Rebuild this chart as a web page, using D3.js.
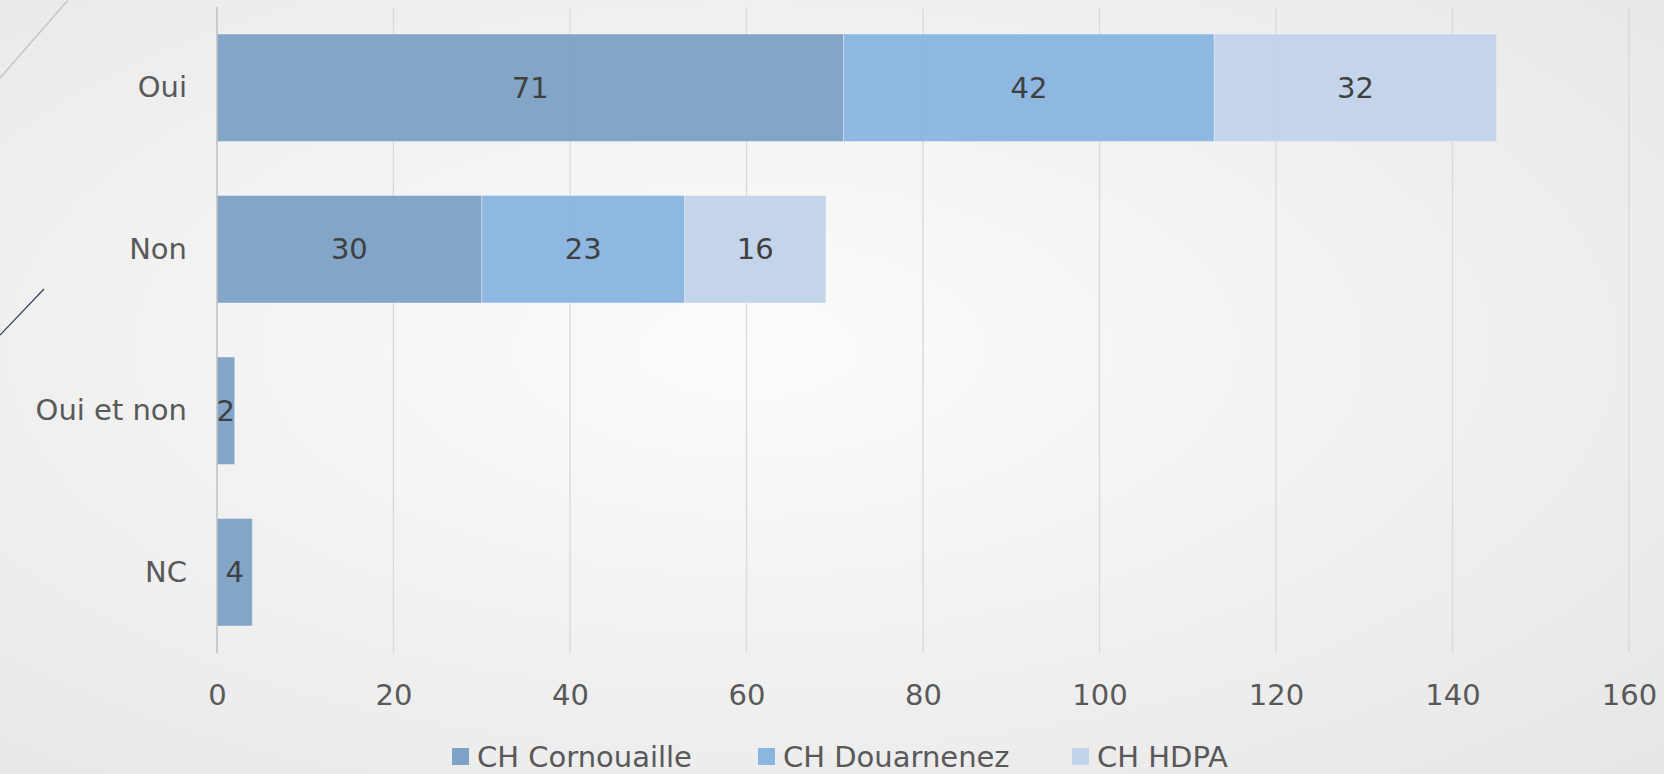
<!DOCTYPE html>
<html>
<head>
<meta charset="utf-8">
<script src="https://cdn.jsdelivr.net/npm/d3@7/dist/d3.min.js"></script>
<style>
  html, body { margin: 0; padding: 0; background: #efefef; }
  svg { display: block; }
  text { font-family: "DejaVu Sans", sans-serif; }
</style>
</head>
<body>
<svg id="chart" width="1664" height="774"></svg>
<script>
const categories = ["Oui", "Non", "Oui et non", "NC"];
const seriesNames = ["CH Cornouaille", "CH Douarnenez", "CH HDPA"];
const cornouaille = [71, 30, 2, 4];
const douarnenez = [42, 23, 0, 0];
const hdpa = [32, 16, 0, 0];
const xTicks = [0, 20, 40, 60, 80, 100, 120, 140, 160];
const colors = ["#7ea2c6", "#8ab6e0", "#c2d4ea"];

const W = 1664, H = 774;
const svg = d3.select("#chart");

// Background gradient
const defs = svg.append("defs");
const rg = defs.append("radialGradient").attr("id", "bg")
  .attr("cx", "45%").attr("cy", "45%").attr("r", "75%");
rg.append("stop").attr("offset", "0%").attr("stop-color", "#fcfcfc");
rg.append("stop").attr("offset", "100%").attr("stop-color", "#e7e7e7");
svg.append("rect").attr("width", W).attr("height", H).attr("fill", "url(#bg)");

// Decorative lines
svg.append("line").attr("x1", 0).attr("y1", 78).attr("x2", 68).attr("y2", 0)
  .attr("stroke", "#c6c6c8").attr("stroke-width", 1.5);
svg.append("line").attr("x1", 0).attr("y1", 335).attr("x2", 44).attr("y2", 289)
  .attr("stroke", "#2d3f5e").attr("stroke-width", 1.2);

const plot = { left: 217, right: 1629, top: 7, bottom: 653 };

const x = d3.scaleLinear().domain([0, 160]).range([plot.left, plot.right]);
const y = d3.scaleBand().domain(categories).range([plot.top, plot.bottom])
  .paddingInner(0.335).paddingOuter(0.1675);

// Gridlines
svg.append("g").selectAll("line").data(xTicks.filter(d => d !== 0)).join("line")
  .attr("x1", d => x(d)).attr("x2", d => x(d))
  .attr("y1", plot.top).attr("y2", plot.bottom)
  .attr("stroke", "#d9d9d9").attr("stroke-width", 1.3);

// Stack data
const rows = categories.map((c, i) => ({
  cat: c, s0: cornouaille[i], s1: douarnenez[i], s2: hdpa[i]
}));
const stack = d3.stack().keys(["s0", "s1", "s2"])(rows);

const layers = svg.append("g").selectAll("g").data(stack).join("g")
  .attr("fill", (d, i) => colors[i]);

layers.selectAll("rect").data(d => d.filter(p => p[1] - p[0] > 0)).join("rect")
  .attr("x", d => x(d[0]))
  .attr("y", d => y(d.data.cat))
  .attr("width", d => x(d[1]) - x(d[0]))
  .attr("height", y.bandwidth())
  .attr("fill-opacity", 0.97)
  .attr("stroke", "rgba(255,255,255,0.3)")
  .attr("stroke-width", 1);

// Data labels
layers.selectAll("text").data(d => d.filter(p => p[1] - p[0] > 0)).join("text")
  .attr("x", d => (x(d[0]) + x(d[1])) / 2)
  .attr("y", d => y(d.data.cat) + y.bandwidth() / 2)
  .attr("text-anchor", "middle")
  .attr("dominant-baseline", "central")
  .attr("fill", "#404040")
  .attr("font-size", 29)
  .text(d => d[1] - d[0]);

// Vertical axis line
svg.append("line").attr("x1", x(0)).attr("x2", x(0))
  .attr("y1", plot.top).attr("y2", plot.bottom)
  .attr("stroke", "#bfbfbf").attr("stroke-width", 1.5);

// Category labels
const yAxis = d3.axisLeft(y).tickSize(0).tickPadding(30);
const yg = svg.append("g").attr("transform", `translate(${x(0)},0)`).call(yAxis);
yg.select(".domain").remove();
yg.selectAll("text").attr("font-size", 29).attr("fill", "#595959")
  .attr("font-family", "DejaVu Sans, sans-serif");

// X axis labels
const xAxis = d3.axisBottom(x).tickValues(xTicks).tickSize(0).tickPadding(0);
const xg = svg.append("g").attr("transform", `translate(0,695)`).call(xAxis);
xg.select(".domain").remove();
xg.selectAll("text").attr("font-size", 29).attr("fill", "#595959")
  .attr("dy", "0.35em").attr("font-family", "DejaVu Sans, sans-serif");

// Legend
const legendX = [452, 758, 1072];
const lg = svg.append("g").selectAll("g").data(seriesNames).join("g")
  .attr("transform", (d, i) => `translate(${legendX[i]},757)`);
lg.append("rect").attr("x", 0).attr("y", -9).attr("width", 17).attr("height", 17)
  .attr("fill", (d, i) => colors[i]);
lg.append("text").attr("x", 25).attr("y", 0).attr("dominant-baseline", "central")
  .attr("font-size", 29).attr("fill", "#595959").text(d => d);
</script>
</body>
</html>
